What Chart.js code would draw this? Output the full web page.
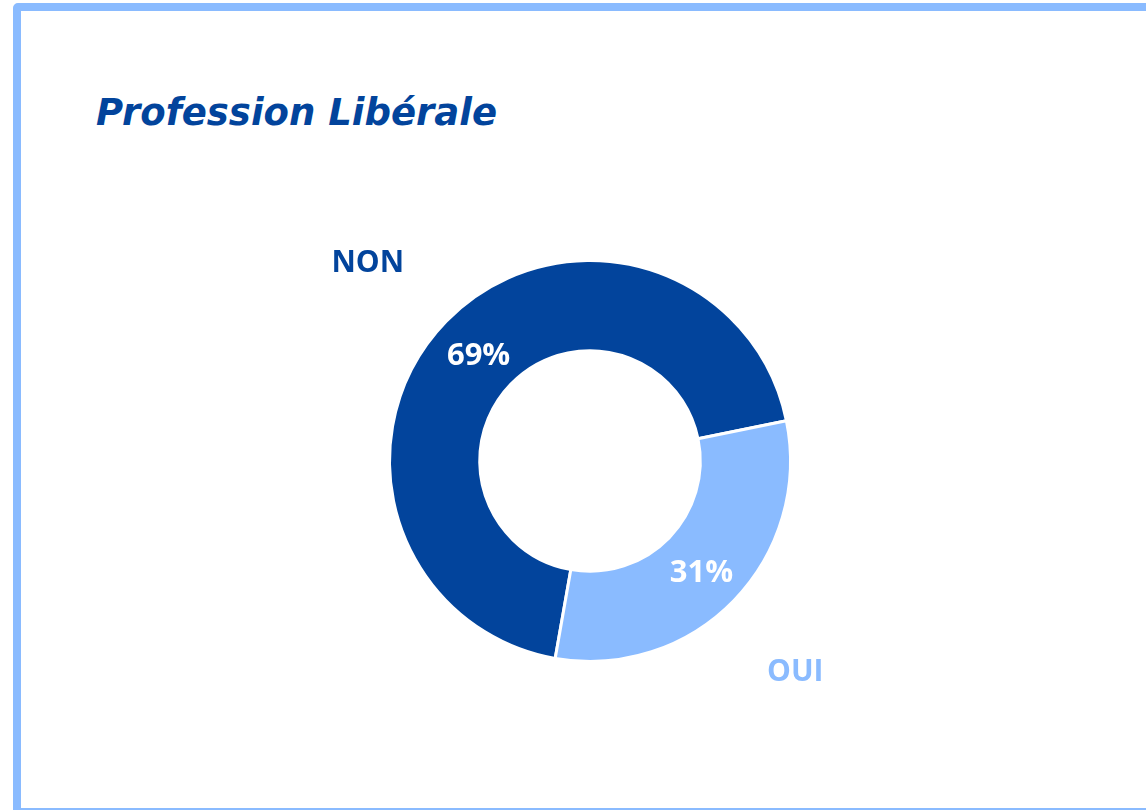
<!DOCTYPE html>
<html>
<head>
<meta charset="utf-8">
<script src="https://cdn.jsdelivr.net/npm/chart.js@4.4.1/dist/chart.umd.min.js"></script>
<style>
    html, body { margin: 0; padding: 0; background: #fff; overflow: hidden; }
    #frame {
        position: absolute; left: 13px; top: 3px;
        width: 1160px; height: 797px;
        border: 8px solid #8abbff; border-radius: 5px;
    }
    #title {
        position: absolute; left: 96px; top: 91px;
        font-family: 'DejaVu Sans', sans-serif; font-style: italic; font-weight: bold;
        font-size: 37px; color: #02449c; white-space: nowrap;
    }
    #wrap { position: absolute; left: 0; top: 0; width: 1146px; height: 810px; }
</style>
</head>
<body>
<div id="frame"></div>
<div id="title">Profession Libérale</div>
<div id="wrap"><canvas id="chart" width="1146" height="810"></canvas></div>
<script>
const categories = ['NON', 'OUI'];
const values = [69, 31];
const sliceColors = ['#02449c', '#8abbff'];

// category names outside the ring, percentages on the ring
const outerLabels = {
    id: 'outerLabels',
    afterDatasetsDraw(chart) {
        const ctx = chart.ctx;
        const arcs = chart.getDatasetMeta(0).data;
        const nudgeX = [-9, -8];
        const nudgeY = [10, 4];
        ctx.save();
        ctx.textAlign = 'center';
        ctx.textBaseline = 'middle';
        arcs.forEach((arc, i) => {
            const pos = arc.tooltipPosition();
            ctx.font = 'bold 31px "Open Sans", sans-serif';
            ctx.fillStyle = '#ffffff';
            ctx.fillText(values[i] + '%', pos.x, pos.y + 4);

            const mid = (arc.startAngle + arc.endAngle) / 2;
            const r = arc.outerRadius + 97;
            ctx.font = 'bold 30px "Open Sans", sans-serif';
            ctx.fillStyle = sliceColors[i];
            ctx.fillText(categories[i], arc.x + Math.cos(mid) * r + nudgeX[i], arc.y + Math.sin(mid) * r + nudgeY[i]);
        });
        ctx.restore();
    }
};

new Chart(document.getElementById('chart'), {
    type: 'doughnut',
    data: {
        labels: categories,
        datasets: [{
            data: values,
            backgroundColor: sliceColors,
            borderColor: '#ffffff',
            borderWidth: 3
        }]
    },
    options: {
        responsive: false,
        animation: false,
        rotation: 190,
        cutout: '55%',
        layout: { padding: { left: 388, right: 354, top: 259, bottom: 147 } },
        plugins: {
            legend: { display: false },
            tooltip: { enabled: false }
        }
    },
    plugins: [outerLabels]
});
</script>
</body>
</html>
